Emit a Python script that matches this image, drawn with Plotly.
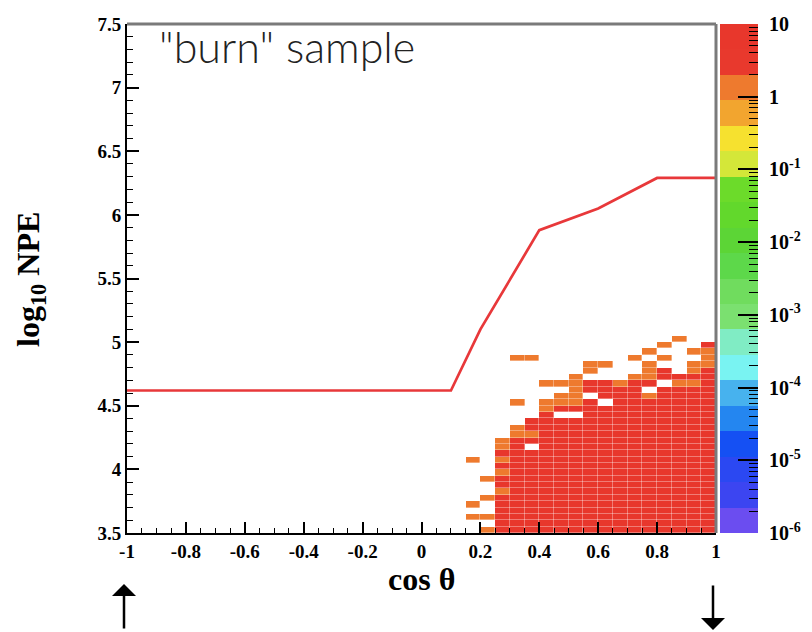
import numpy as np
import plotly.graph_objects as go

# ---------------- data ----------------
# 2D histogram binning: cos(theta) in [-1,1] (40 bins), log10 NPE in [3.5,7.5] (80 bins)
x_edges = np.linspace(-1.0, 1.0, 41)
y_edges = np.linspace(3.5, 7.5, 81)

# content levels (events) used for the two populated colour levels
red_value = 5.0
orange_value = 1.2

# solid (red) columns: column index -> highest filled row index (rows counted from 3.5 upward)
red_cols = [25, 26, 27, 28, 29, 30, 31, 32, 33, 34, 35, 36, 37, 38, 39]
red_top = [12, 14, 17, 18, 19, 19, 23, 23, 22, 23, 23, 25, 24, 24, 25]
red_extra_col = [39]
red_extra_row = [29]

# orange cells (column index, row index)
orange_col = [23, 23, 23,
              24, 24, 24, 24,
              25, 25, 25, 25, 25,
              26, 26, 26, 26,
              27, 27,
              28, 28, 28,
              29, 29, 29,
              30, 30, 30, 30, 30,
              31, 31,
              32,
              33,
              34, 34,
              35, 35, 35, 35, 35,
              36, 36,
              37, 37,
              38, 38, 38, 38,
              39, 39, 39]
orange_row = [2, 4, 11,
              0, 2, 5, 8,
              6, 9, 11, 13, 14,
              15, 16, 20, 27,
              15, 27,
              19, 20, 23,
              20, 21, 23,
              20, 21, 22, 23, 24,
              25, 26,
              26,
              23,
              24, 27,
              21, 24, 25, 26, 28,
              27, 29,
              23, 30,
              23, 25, 26, 28,
              26, 27, 28]

# empty cells inside the filled region
hole_col = [27, 29, 30, 31, 32, 35, 36]
hole_row = [13, 18, 18, 21, 20, 22, 23]

# red cut line
line_cos = [-1.0, 0.1, 0.2, 0.4, 0.6, 0.8, 1.0]
line_npe = [4.62, 4.62, 5.10, 5.88, 6.05, 6.29, 6.29]

# tick labels
x_tickvals = [-1, -0.8, -0.6, -0.4, -0.2, 0, 0.2, 0.4, 0.6, 0.8, 1]
x_ticktext = ["-1", "-0.8", "-0.6", "-0.4", "-0.2", "0", "0.2", "0.4", "0.6", "0.8", "1"]
y_tickvals = [3.5, 4, 4.5, 5, 5.5, 6, 6.5, 7, 7.5]
y_ticktext = ["3.5", "4", "4.5", "5", "5.5", "6", "6.5", "7", "7.5"]
z_tickvals = [1e-6, 1e-5, 1e-4, 1e-3, 1e-2, 1e-1, 1, 10]
z_ticktext = ["10<sup>-6</sup>", "10<sup>-5</sup>", "10<sup>-4</sup>", "10<sup>-3</sup>",
              "10<sup>-2</sup>", "10<sup>-1</sup>", "1", "10"]

# palette bands (bottom -> top), 20 levels over 1e-6 .. 10
palette = ["#6B4DF0", "#3C45F1", "#2B48F2", "#1550F3", "#2486F0",
           "#47B2EE", "#79F3F2", "#80ECC4", "#7BE070", "#70DC5E",
           "#5DD84A", "#5CD536", "#62D82C", "#6CDB2A", "#D4E739",
           "#F6E12F", "#F2A52F", "#EE7A2E", "#E8392D", "#E8372C"]
z_log_min, z_log_max = -6, 1

# ---------------- build histogram ----------------
nx = len(x_edges) - 1
ny = len(y_edges) - 1
z = [[None] * nx for _ in range(ny)]
for c, top in zip(red_cols, red_top):
    for r in range(top + 1):
        z[r][c] = np.log10(red_value)
for c, r in zip(red_extra_col, red_extra_row):
    z[r][c] = np.log10(red_value)
for c, r in zip(orange_col, orange_row):
    z[r][c] = np.log10(orange_value)
for c, r in zip(hole_col, hole_row):
    z[r][c] = None

nb = len(palette)
colorscale = []
for k, col in enumerate(palette):
    colorscale.append([k / nb, col])
    colorscale.append([(k + 1) / nb, col])

# colour-bar bands (palette key), drawn as a one-column heatmap so axis ticks sit on top
band_edges_log = np.linspace(z_log_min, z_log_max, nb + 1)
band_edges = 10 ** band_edges_log
band_mid = [[(band_edges_log[k] + band_edges_log[k + 1]) / 2] for k in range(nb)]

# ---------------- layout geometry (pixels) ----------------
W, H = 812, 632
L, R, T, B = 127, 10, 24, 99
paper_w = W - L - R           # 675
plot_w = 716 - L              # 589
plot_h = H - T - B            # 509
dom_end = plot_w / paper_w
cb_x0, cb_x1 = 720, 758


def px_to_dom_x(px):
    return (px - L) / plot_w


def px_to_dom_y(py):
    return (H - B - py) / plot_h


serif = "Liberation Serif"
tickfont = dict(family=serif, size=19, color="black", weight="bold")

fig = go.Figure()
fig.add_trace(go.Heatmap(
    x=x_edges, y=y_edges, z=z,
    zmin=z_log_min, zmax=z_log_max, colorscale=colorscale,
    xgap=0.35, ygap=0.35,
    hoverinfo="skip", showscale=False,
))
fig.add_trace(go.Scatter(
    x=line_cos, y=line_npe, mode="lines",
    line=dict(color="#E8383A", width=2.7),
    hoverinfo="skip", showlegend=False,
))
# colour-bar key
fig.add_trace(go.Heatmap(
    x=[0, 1], y=band_edges, z=band_mid,
    xaxis="x2", yaxis="y2",
    zmin=z_log_min, zmax=z_log_max, colorscale=colorscale,
    hoverinfo="skip", showscale=False,
))

fig.update_layout(
    width=W, height=H,
    margin=dict(l=L, r=R, t=T, b=B, autoexpand=False),
    paper_bgcolor="white", plot_bgcolor="white",
    showlegend=False,
    xaxis=dict(
        domain=[0, dom_end], automargin=False,
        range=[-1, 1], tickvals=x_tickvals, ticktext=x_ticktext,
        ticks="inside", ticklen=11, tickwidth=1.5, tickcolor="black",
        minor=dict(dtick=0.05, tick0=0, ticks="inside", ticklen=5, tickwidth=1.2, tickcolor="black"),
        showline=True, linecolor="black", linewidth=2,
        showgrid=False, zeroline=False, tickfont=tickfont,
    ),
    yaxis=dict(
        automargin=False,
        range=[3.5, 7.5], tickvals=y_tickvals, ticktext=y_ticktext,
        ticks="inside", ticklen=12, tickwidth=1.5, tickcolor="black",
        minor=dict(dtick=0.1, tick0=0, ticks="inside", ticklen=6, tickwidth=1.2, tickcolor="black"),
        showline=True, linecolor="black", linewidth=2,
        showgrid=False, zeroline=False, tickfont=tickfont,
    ),
    xaxis2=dict(
        domain=[(cb_x0 - L) / paper_w, (cb_x1 - L) / paper_w], anchor="y2",
        range=[0, 1], visible=False, automargin=False,
    ),
    yaxis2=dict(
        automargin=False, domain=[0, 1], anchor="x2",
        type="log", range=[z_log_min, z_log_max], side="right",
        tickvals=z_tickvals, ticktext=z_ticktext,
        ticks="inside", ticklen=20, tickwidth=1.5, tickcolor="black",
        minor=dict(ticks="inside", ticklen=9, tickwidth=1.2, tickcolor="black", dtick="D1"),
        showline=False, showgrid=False, zeroline=False,
        ticklabelstandoff=10,
        tickfont=dict(family=serif, size=20, color="black", weight="bold"),
    ),
    shapes=[
        dict(type="line", xref="x domain", yref="y domain", x0=0, x1=1, y0=1, y1=1,
             line=dict(color="#7A7A7A", width=3), layer="above"),
        dict(type="line", xref="x domain", yref="y domain", x0=1, x1=1, y0=0, y1=1,
             line=dict(color="#7A7A7A", width=3), layer="above"),
    ],
    annotations=[
        dict(text='"burn" sample', xref="x domain", yref="y domain",
             x=px_to_dom_x(157), y=px_to_dom_y(46), xanchor="left", yanchor="middle",
             showarrow=False, font=dict(family="Lato", size=43, color="#222222", weight=300)),
        dict(text="cos θ", xref="x domain", yref="y domain",
             x=0.5, y=px_to_dom_y(579), xanchor="center", yanchor="middle",
             showarrow=False, font=dict(family=serif, size=32, color="black", weight="bold")),
        dict(text="log<sub>10</sub> NPE", xref="x domain", yref="y domain",
             x=px_to_dom_x(30), y=px_to_dom_y(280), xanchor="center", yanchor="middle",
             textangle=-90, showarrow=False,
             font=dict(family=serif, size=32, color="black", weight="bold")),
        dict(text="", xref="x domain", yref="y domain",
             x=px_to_dom_x(124), y=px_to_dom_y(584), ax=0, ay=46,
             showarrow=True, arrowhead=1, arrowsize=1.6, arrowwidth=2.5, arrowcolor="black"),
        dict(text="", xref="x domain", yref="y domain",
             x=px_to_dom_x(713), y=px_to_dom_y(630), ax=0, ay=-46,
             showarrow=True, arrowhead=1, arrowsize=1.6, arrowwidth=2.5, arrowcolor="black"),
    ],
)

fig.write_html("out.html")
